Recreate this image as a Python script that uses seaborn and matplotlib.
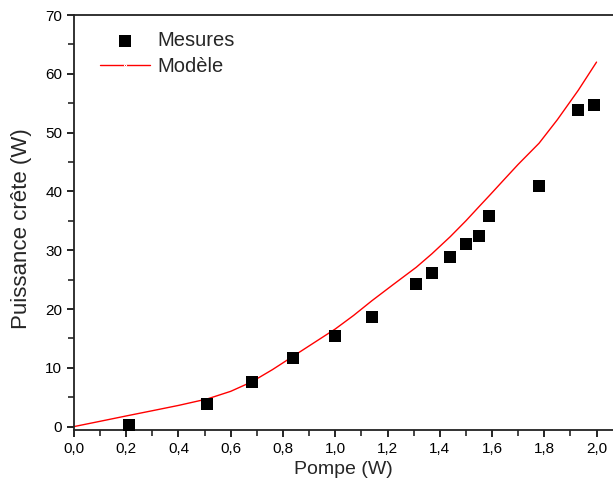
import numpy as np
import pandas as pd
import matplotlib.pyplot as plt
import seaborn as sns
from matplotlib.ticker import MultipleLocator, FuncFormatter

# Measured points (pump power W, peak power W)
pompe_mes = [0.21, 0.51, 0.68, 0.84, 1.00, 1.14, 1.31, 1.37, 1.44, 1.50, 1.55, 1.59, 1.78, 1.93, 1.99]
puissance_mes = [0.3, 3.8, 7.6, 11.6, 15.4, 18.7, 24.2, 26.2, 28.8, 31.0, 32.4, 35.8, 40.9, 53.8, 54.7]

# Model curve
pompe_mod = [0.0, 0.10, 0.21, 0.30, 0.40, 0.51, 0.60, 0.68, 0.76, 0.84, 0.92, 1.00, 1.07, 1.14,
             1.22, 1.31, 1.37, 1.44, 1.50, 1.55, 1.59, 1.65, 1.70, 1.78, 1.85, 1.93, 2.00]
puissance_mod = [0.0, 0.9, 1.9, 2.7, 3.6, 4.7, 6.0, 7.6, 9.7, 12.0, 14.3, 16.6, 18.9, 21.4,
                 24.1, 27.1, 29.4, 32.3, 35.0, 37.4, 39.3, 42.2, 44.6, 48.2, 52.2, 57.2, 62.0]

mes = pd.DataFrame({'Pompe': pompe_mes, 'Puissance': puissance_mes})
mod = pd.DataFrame({'Pompe': pompe_mod, 'Puissance': puissance_mod})

sns.set_style('ticks')
plt.rcParams['font.family'] = ['Liberation Sans', 'DejaVu Sans']

fig = plt.figure(figsize=(6.13, 4.86), dpi=100)
ax = fig.add_axes([0.1207, 0.115, 0.8793, 0.854])

sns.scatterplot(data=mes, x='Pompe', y='Puissance', marker='s', s=64, color='black',
                edgecolor='black', linewidth=0, label='Mesures', ax=ax, zorder=3)
sns.lineplot(data=mod, x='Pompe', y='Puissance', color='red', linewidth=1,
             label='Modèle', ax=ax, zorder=2)

ax.set_xlim(0, 2.063)
ax.set_ylim(-0.6, 70)
ax.xaxis.set_major_locator(MultipleLocator(0.2))
ax.xaxis.set_minor_locator(MultipleLocator(0.1))
ax.yaxis.set_major_locator(MultipleLocator(10))
ax.yaxis.set_minor_locator(MultipleLocator(5))
ax.xaxis.set_major_formatter(FuncFormatter(lambda v, p: f'{v:.1f}'.replace('.', ',')))
ax.yaxis.set_major_formatter(FuncFormatter(lambda v, p: f'{v:.0f}'))
ax.tick_params(which='major', direction='out', length=5, width=1.2, labelsize=11, colors='black')
ax.tick_params(which='minor', direction='out', length=4, width=1.2)

for side in ['left', 'bottom', 'top']:
    ax.spines[side].set_linewidth(1.3)
    ax.spines[side].set_color('#222222')
ax.spines['right'].set_visible(False)

ax.set_xlabel('Pompe (W)', fontsize=14, labelpad=4)
ax.set_ylabel('Puissance crête (W)', fontsize=16)
ax.yaxis.set_label_coords(-0.077, 0.485)

# legend handle with a small dot like the original
leg = ax.legend(loc='upper left', bbox_to_anchor=(0.048, 0.962), frameon=False, fontsize=14.5,
                handlelength=2.5, handletextpad=0.35, labelspacing=0.38, borderaxespad=0,
                borderpad=0)
leg.get_lines()[0].set_marker('.')
leg.get_lines()[0].set_markersize(3)
leg.get_lines()[0].set_markevery([1])

plt.savefig('out.png', dpi=100)
